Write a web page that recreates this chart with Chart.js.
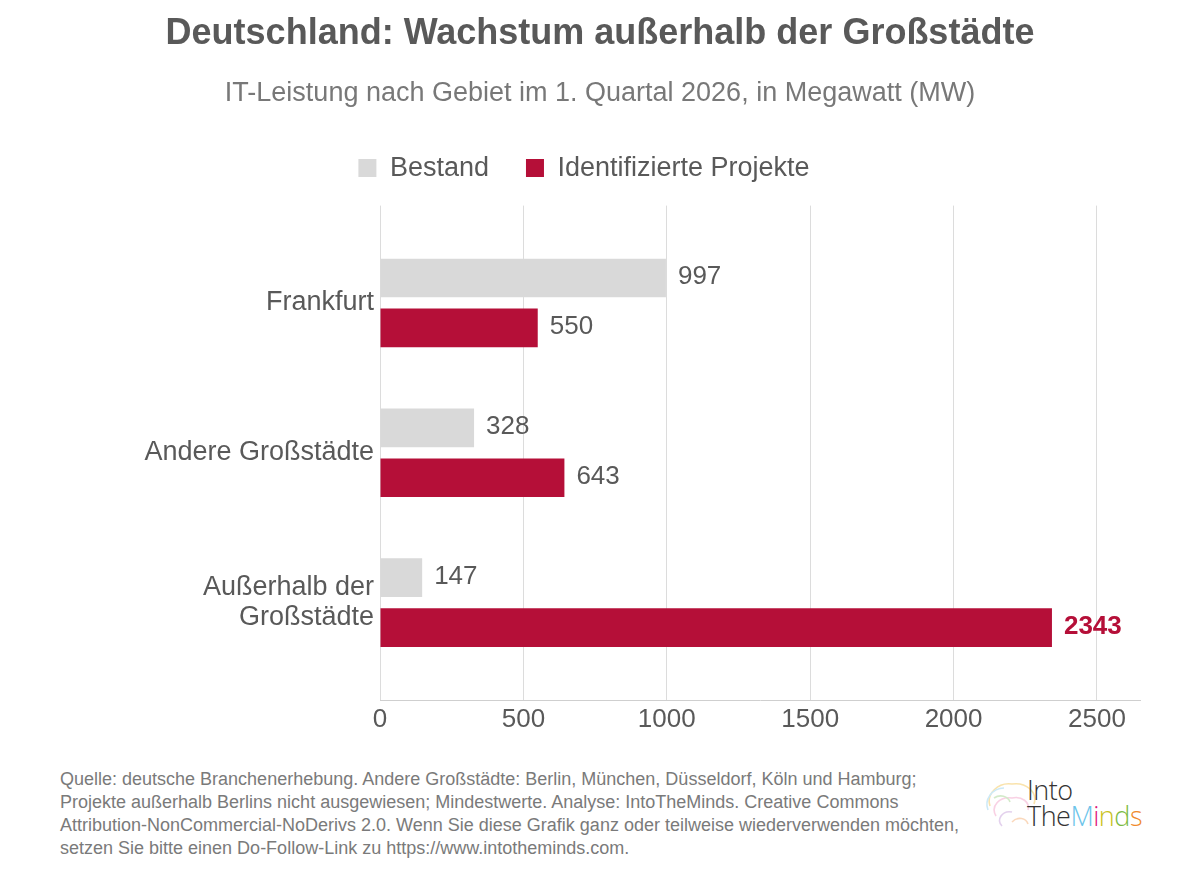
<!DOCTYPE html>
<html lang="de">
<head>
<meta charset="utf-8">
<title>Deutschland: Wachstum außerhalb der Großstädte</title>
<script src="https://cdn.jsdelivr.net/npm/chart.js@4.4.1/dist/chart.umd.min.js"></script>
<style>
  html, body { margin: 0; padding: 0; background: #fff; }
  #wrap { position: relative; width: 1200px; height: 877px; overflow: hidden; }
  #chart { position: absolute; left: 0; top: 0; }
  .footer {
    position: absolute; left: 60px; top: 768px;
    font: 18px "Liberation Sans", Arial, sans-serif;
    line-height: 23px; color: #7a7a7a;
  }
  .logo {
    position: absolute; left: 1027px; top: 777px;
    font: 300 27px "Open Sans", "Liberation Sans", sans-serif;
    line-height: 26px; color: #333; letter-spacing: -0.5px;
  }
  .brain { position: absolute; left: 982px; top: 776px; opacity: 0.45; }
</style>
</head>
<body>
<div id="wrap">
  <canvas id="chart" width="1200" height="760"></canvas>
  <div class="footer">
    Quelle: deutsche Branchenerhebung. Andere Großstädte: Berlin, München, Düsseldorf, Köln und Hamburg;<br>
    Projekte außerhalb Berlins nicht ausgewiesen; Mindestwerte. Analyse: IntoTheMinds. Creative Commons<br>
    Attribution-NonCommercial-NoDerivs 2.0. Wenn Sie diese Grafik ganz oder teilweise wiederverwenden möchten,<br>
    setzen Sie bitte einen Do-Follow-Link zu https://www.intotheminds.com.
  </div>
  <svg class="brain" width="60" height="60" viewBox="0 0 60 60" fill="none" stroke-width="1.6">
    <path d="M8 30 C4 18 16 6 30 8 C44 6 56 16 52 28" stroke="#f3c24a"/>
    <path d="M6 34 C2 24 10 12 22 12" stroke="#8fd0ee"/>
    <path d="M14 40 C8 30 18 20 30 22 C40 20 48 26 46 34" stroke="#f29bc4"/>
    <path d="M20 50 C14 44 20 34 30 36" stroke="#c39ad8"/>
    <path d="M12 22 C18 18 26 20 28 26" stroke="#9fd28a"/>
    <path d="M30 46 C36 40 44 42 46 48" stroke="#f6a96a"/>
  </svg>
  <div class="logo">Into<br>The<span style="color:#6cc4ea">M</span><span style="color:#e0147c">i</span><span style="color:#c9c21c">n</span><span style="color:#7dbb42">d</span><span style="color:#f08a2c">s</span></div>
</div>
<script>
// ── data ───────────────────────────────────────────────
const categories = ['Frankfurt', 'Andere Großstädte', ['Außerhalb der', 'Großstädte']];
const bestand = [997, 328, 147];
const projekte = [550, 643, 2343];
const xTickValues = [0, 500, 1000, 1500, 2000, 2500];
const seriesNames = ['Bestand', 'Identifizierte Projekte'];

const FONT = '"Liberation Sans", Arial, sans-serif';
const GREY = '#d9d9d9';
const RED = '#b50f38';
const TEXT = '#595959';

// value labels at the end of each bar
const valueLabels = {
    id: 'valueLabels',
    afterDatasetsDraw(chart) {
        const ctx = chart.ctx;
        const maxProj = Math.max(...projekte);
        ctx.save();
        chart.data.datasets.forEach((ds, di) => {
            chart.getDatasetMeta(di).data.forEach((bar, i) => {
                const v = ds.data[i].x;
                const hi = di === 1 && v === maxProj;
                ctx.font = (hi ? 'bold ' : '') + '26px ' + FONT;
                ctx.fillStyle = hi ? RED : TEXT;
                ctx.textAlign = 'left';
                ctx.textBaseline = 'middle';
                ctx.fillText(String(v), bar.x + 12, bar.y - 1);
            });
        });
        ctx.restore();
    },
};

// a bit more room between the legend and the plot, legend nudged left
const legendGap = {
    id: 'legendGap',
    beforeLayout(chart) {
        const lg = chart.legend;
        if (!lg || lg._gapPatched) return;
        const fit = lg.fit.bind(lg);
        lg.fit = function () { fit(); this.height += 14; };
        lg._gapPatched = true;
    },
    afterLayout(chart) {
        const lg = chart.legend;
        if (!lg) return;
        lg.left -= 16;
        lg.right -= 16;
    },
};

new Chart(document.getElementById('chart'), {
    type: 'bar',
    data: {
        datasets: [
            {
                label: seriesNames[0],
                data: bestand.map((v, i) => ({ x: v, y: i })),
                backgroundColor: GREY,
            },
            {
                label: seriesNames[1],
                data: projekte.map((v, i) => ({ x: v, y: i })),
                backgroundColor: RED,
            },
        ],
    },
    options: {
        indexAxis: 'y',
        responsive: false,
        animation: false,
        devicePixelRatio: 1,
        categoryPercentage: 100 / 150,
        barPercentage: 0.775,
        layout: { padding: { left: 60, right: 60, top: 0, bottom: 26 } },
        plugins: {
            title: {
                display: true,
                text: 'Deutschland: Wachstum außerhalb der Großstädte',
                color: TEXT,
                font: { family: FONT, size: 36, weight: 'bold' },
                padding: { top: 12, bottom: 10 },
            },
            subtitle: {
                display: true,
                text: 'IT-Leistung nach Gebiet im 1. Quartal 2026, in Megawatt (MW)',
                color: '#787878',
                font: { family: FONT, size: 27 },
                padding: { top: 12, bottom: 8 },
            },
            legend: {
                position: 'top',
                labels: {
                    color: TEXT,
                    font: { family: FONT, size: 27 },
                    boxWidth: 18,
                    boxHeight: 18,
                    padding: 37,
                },
            },
            tooltip: { enabled: false },
        },
        scales: {
            x: {
                type: 'linear',
                min: 0,
                max: 2650,
                afterBuildTicks: s => { s.ticks = xTickValues.map(v => ({ value: v })); },
                afterFit: s => { s.height = 34; },
                grid: { color: '#dcdcdc', drawTicks: false },
                border: { display: true, color: '#cfcfcf' },
                ticks: {
                    padding: 4,
                    color: TEXT,
                    font: { family: FONT, size: 26 },
                    callback: v => String(v),
                },
            },
            y: {
                type: 'linear',
                reverse: true,
                offset: false,
                min: -0.65,
                max: 2.65,
                afterBuildTicks: s => { s.ticks = categories.map((c, i) => ({ value: i })); },
                afterFit: s => { s.width = 320; },
                grid: { display: false, drawTicks: false, offset: false },
                border: { display: false },
                ticks: {
                    padding: 6,
                    color: TEXT,
                    font: { family: FONT, size: 27, lineHeight: 1.12 },
                    callback: v => categories[v],
                },
            },
        },
    },
    plugins: [valueLabels, legendGap],
});
</script>
</body>
</html>
